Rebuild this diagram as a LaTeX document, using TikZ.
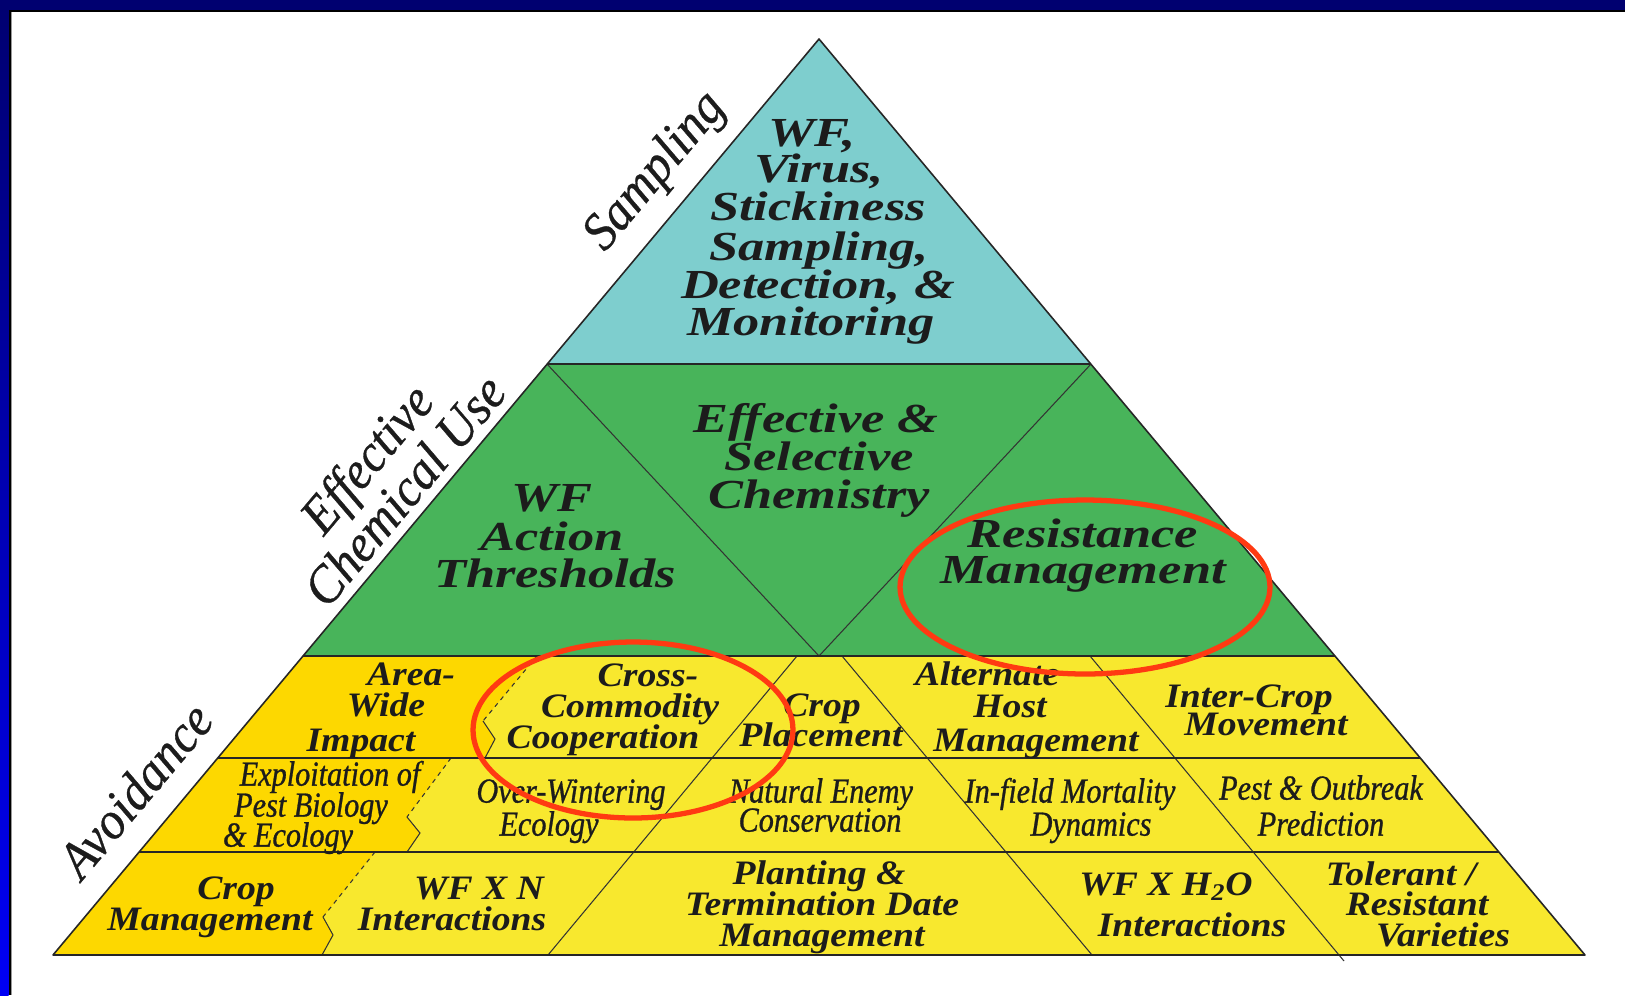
\documentclass[tikz,border=0pt]{standalone}
\usepackage{fontspec}
\setmainfont{Liberation Serif}
\newfontfamily\widefont[FakeStretch=1.27]{Liberation Serif}
\newfontfamily\rowfont[FakeStretch=1.1]{Liberation Serif}
\newfontfamily\narrowfont[FakeStretch=0.86, FakeBold=0.8]{Liberation Serif}
\newfontfamily\sidefont[FakeStretch=0.95, FakeBold=0.6]{Liberation Serif}
\definecolor{bandnavy}{HTML}{000070}
\definecolor{bandblue}{HTML}{0000F5}
\definecolor{samplecyan}{HTML}{7ECECE}
\definecolor{chemgreen}{HTML}{48B45A}
\definecolor{avoidyellow}{HTML}{F8E82E}
\definecolor{avoidgold}{HTML}{FDD800}
\definecolor{markred}{HTML}{FF3A12}
\definecolor{inkdark}{HTML}{1C1C1C}

\begin{document}
\begin{tikzpicture}[
    x=0.02cm, y=-0.02cm,
    every node/.style={inner sep=0pt, text=inkdark},
    outline/.style={draw=black!85, line width=0.9pt, line join=round},
    tier/.style={draw=black!85, line width=1.1pt},
    split/.style={draw=black!80, line width=0.6pt},
    seam/.style={draw=black!80, line width=0.6pt, dash pattern=on 2.5pt off 2.5pt},
    topline/.style={font=\widefont\bfseries\itshape\fontsize{23.5}{22}\selectfont, text height=15.5pt, text depth=0pt},
    rowline/.style={font=\rowfont\bfseries\itshape\fontsize{19.5}{18}\selectfont, text height=12.9pt, text depth=0pt},
    thinline/.style={font=\narrowfont\itshape\fontsize{20}{18}\selectfont, text height=13.2pt, text depth=0pt},
    sidelabel/.style={font=\sidefont\itshape\fontsize{30}{27}\selectfont, rotate=50, align=center},
    ring/.style={draw=markred, line width=3pt}
]
\useasboundingbox (0,0) rectangle (1625,995);

% slide frame
\fill[white] (0,0) rectangle (1625,995);
\shade[top color=bandnavy, bottom color=bandblue] (0,0) rectangle (8.5,995);
\fill[black] (8.5,12) rectangle (11,995);
\fill[black!40] (11,12) rectangle (12,995);
\fill[bandnavy] (0,0) rectangle (1625,10);
\fill[black] (8.5,10) rectangle (1625,12);

% pyramid corners
\coordinate (apex) at (819,39);
\coordinate (cl) at (547,364);
\coordinate (cr) at (1091,364);
\coordinate (gl) at (303,656);
\coordinate (gr) at (1335,656);
\coordinate (vee) at (819,656);
\coordinate (r1l) at (218,758);
\coordinate (r1r) at (1420,758);
\coordinate (r2l) at (139,852);
\coordinate (r2r) at (1499,852);
\coordinate (bl) at (53,955);
\coordinate (br) at (1585,955);

% cuts through the yellow tier
\coordinate (la) at (797,656);
\coordinate (lb) at (548,955);
\coordinate (ma) at (842,656);
\coordinate (mb) at (1092,955);
\coordinate (ra) at (1090,656);
\coordinate (rb) at (1344,961);

\fill[samplecyan] (apex) -- (cr) -- (cl) -- cycle;
\fill[chemgreen] (cl) -- (cr) -- (gr) -- (gl) -- cycle;
\fill[avoidyellow] (gl) -- (gr) -- (br) -- (bl) -- cycle;

% gold blocks on the left of each row
\fill[avoidgold] (gl) -- (537,656) -- (483,721) -- (495,739) -- (485,758) -- (r1l) -- cycle;
\fill[avoidgold] (r1l) -- (451,758) -- (407,817) -- (420,833) -- (407,852) -- (r2l) -- cycle;
\fill[avoidgold] (r2l) -- (375,852) -- (323,917) -- (333,935) -- (322,955) -- (bl) -- cycle;

\draw[seam] (537,656) -- (483,721);
\draw[split] (483,721) -- (495,739) -- (485,758);
\draw[seam] (451,758) -- (407,817);
\draw[split] (407,817) -- (420,833) -- (407,852);
\draw[seam] (375,852) -- (323,917);
\draw[split] (323,917) -- (333,935) -- (322,955);

\draw[split] (cl) -- (vee) -- (cr);
\draw[split] (la) -- (lb);
\draw[split] (ma) -- (mb);
\draw[split] (ra) -- (rb);

\draw[tier] (cl) -- (cr);
\draw[tier] (gl) -- (gr);
\draw[tier] (r1l) -- (r1r);
\draw[tier] (r2l) -- (r2r);
\draw[outline] (bl) -- (apex) -- (br) -- cycle;

% sampling
\node[topline] (s1) at (812,133) {WF,};
\node[topline] (s2) at (819,169) {Virus,};
\node[topline] (s3) at (818,207) {Stickiness};
\node[topline] (s4) at (819,247) {Sampling,};
\node[topline] (s5) at (818,285) {Detection, \&};
\node[topline] (s6) at (811,322) {Monitoring};

% chemical use
\node[topline] (c1) at (816,419) {Effective \&};
\node[topline] (c2) at (819,457) {Selective};
\node[topline] (c3) at (819,495) {Chemistry};
\node[topline] (w1) at (552,498) {WF};
\node[topline] (w2) at (552,537) {Action};
\node[topline] (w3) at (555,574) {Thresholds};
\node[topline] (m1) at (1083,534) {Resistance};
\node[topline] (m2) at (1083,570) {Management};

% avoidance, first row
\node[rowline] (a1) at (411,674) {Area-};
\node[rowline] (a2) at (386,705) {Wide};
\node[rowline] (a3) at (361,740) {Impact};
\node[rowline] (x1) at (648,675) {Cross-};
\node[rowline] (x2) at (630,706) {Commodity};
\node[rowline] (x3) at (603,737) {Cooperation};
\node[rowline] (p1) at (822,705) {Crop};
\node[rowline] (p2) at (821,735) {Placement};
\node[rowline] (h1) at (987,674) {Alternate};
\node[rowline] (h2) at (1010,706) {Host};
\node[rowline] (h3) at (1036,740) {Management};
\node[rowline] (i1) at (1249,696) {Inter-Crop};
\node[rowline] (i2) at (1266,724) {Movement};

% avoidance, second row
\node[thinline] (e1) at (330,774) {Exploitation of};
\node[thinline] (e2) at (311,805) {Pest Biology};
\node[thinline] (e3) at (288,835) {\& Ecology};
\node[thinline] (o1) at (571,791) {Over-Wintering};
\node[thinline] (o2) at (549,824) {Ecology};
\node[thinline] (n1) at (821,791) {Natural Enemy};
\node[thinline] (n2) at (820,820) {Conservation};
\node[thinline] (f1) at (1070,791) {In-field Mortality};
\node[thinline] (f2) at (1091,824) {Dynamics};
\node[thinline] (b1) at (1321,788) {Pest \& Outbreak};
\node[thinline] (b2) at (1321,824) {Prediction};

% avoidance, third row
\node[rowline] (k1) at (236,888) {Crop};
\node[rowline] (k2) at (210,919) {Management};
\node[rowline] (q1) at (479,888) {WF X N};
\node[rowline] (q2) at (452,919) {Interactions};
\node[rowline] (d1) at (819,873) {Planting \&};
\node[rowline] (d2) at (822,904) {Termination Date};
\node[rowline] (d3) at (822,935) {Management};
\node[rowline] (y1) at (1166,884) {WF X H\textsubscript{2}O};
\node[rowline] (y2) at (1192,925) {Interactions};
\node[rowline] (v1) at (1401,874) {Tolerant /};
\node[rowline] (v2) at (1417,904) {Resistant};
\node[rowline] (v3) at (1443,935) {Varieties};

% side labels
\node[sidelabel] (samp) at (656,172) {Sampling};
\node[sidelabel] (chem) at (385,474) {Effective\\Chemical Use};
\node[sidelabel] (avoid) at (135,790) {Avoidance};

% highlights
\draw[ring] (1085,587) ellipse [x radius=3.7cm, y radius=1.74cm];
\draw[ring] (633,730) ellipse [x radius=3.2cm, y radius=1.76cm];
\end{tikzpicture}
\end{document}
